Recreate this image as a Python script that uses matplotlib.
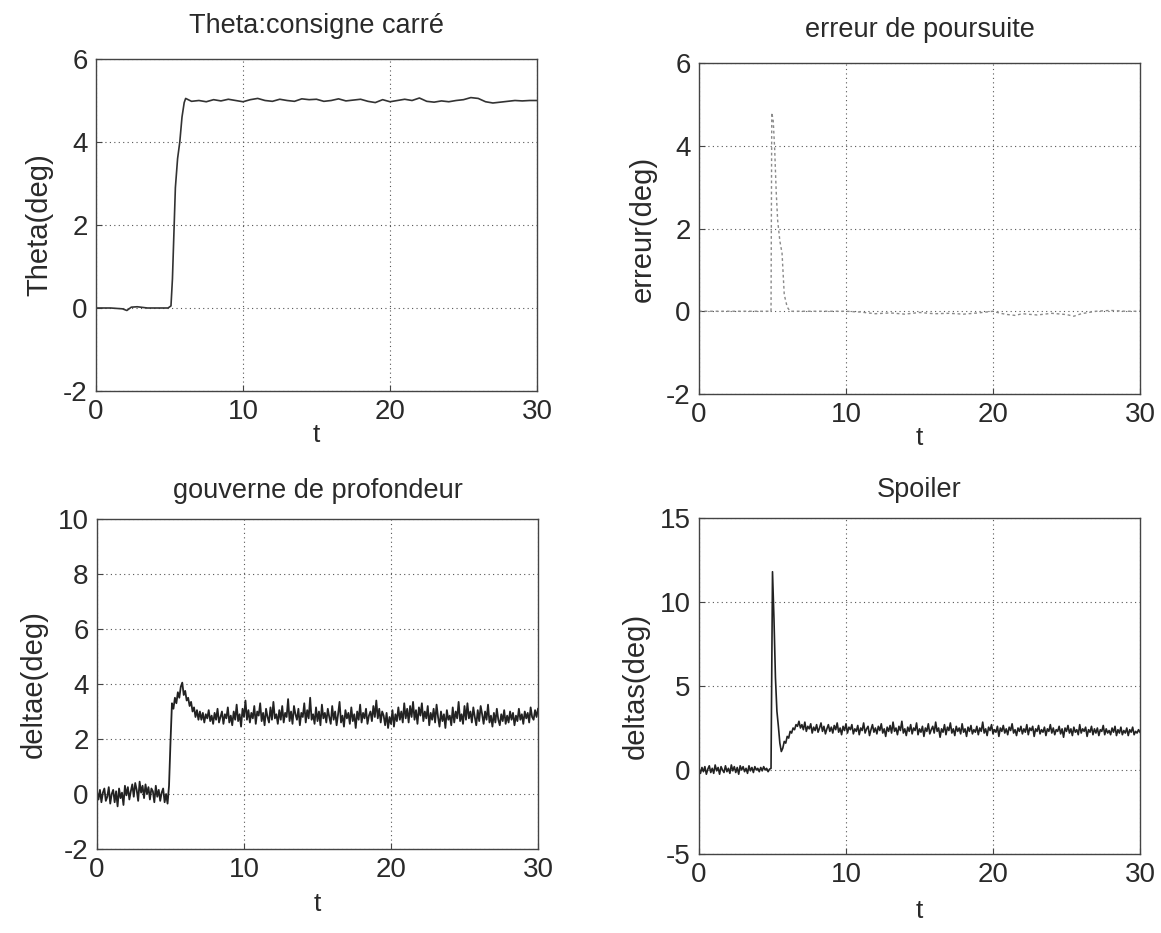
import numpy as np
import matplotlib
matplotlib.use("Agg")
import matplotlib.pyplot as plt

plt.rcParams['font.family'] = ['Liberation Sans', 'DejaVu Sans']
plt.rcParams['axes.unicode_minus'] = False

# ---------------- data ----------------
# Theta response (deg)
t_theta = [0.0, 1.0, 1.8, 2.1, 2.4, 2.8, 3.5, 4.9, 5.1, 5.2, 5.3, 5.4, 5.55, 5.7,
           5.85, 6.0, 6.1, 6.5, 7.0, 7.5, 8.0, 8.5, 9.0, 9.5, 10.0, 10.5, 11.0,
           11.5, 12.0, 12.5, 13.0, 13.5, 14.0, 14.5, 15.0, 15.5, 16.0, 16.5,
           17.0, 17.5, 18.0, 18.5, 19.0, 19.5, 20.0, 20.5, 21.0, 21.5, 22.0,
           22.5, 23.0, 23.5, 24.0, 24.5, 25.0, 25.5, 26.0, 26.5, 27.0, 27.5,
           28.0, 28.5, 29.0, 29.5, 30.0]
theta = [0.0, 0.0, -0.02, -0.06, 0.02, 0.03, 0.0, 0.0, 0.05, 0.7, 1.8, 2.9, 3.6, 4.0,
         4.6, 4.95, 5.05, 4.98, 5.0, 4.97, 5.02, 4.99, 5.03, 5.0, 4.97, 5.02, 5.05,
         5.0, 4.98, 5.03, 5.0, 4.98, 5.04, 5.02, 5.03, 4.98, 5.0, 5.04,
         4.99, 5.01, 5.03, 4.98, 4.95, 5.02, 4.97, 5.0, 5.03, 5.0, 5.06,
         4.98, 4.96, 4.99, 4.97, 5.0, 5.02, 5.07, 5.05, 4.97, 4.94, 4.96,
         4.98, 5.0, 4.99, 5.0, 5.0]

# Tracking error (deg)
t_err = [0.0, 4.9, 4.95, 5.05, 5.15, 5.25, 5.35, 5.5, 5.65, 5.8, 6.0, 6.2, 8.0, 10.0,
         11.0, 12.0, 13.0, 14.0, 15.0, 16.0, 17.0, 18.0, 19.0, 20.0, 20.5, 21.0,
         21.5, 22.0, 23.0, 24.0, 25.0, 25.5, 26.0, 27.0, 28.0, 29.0, 30.0]
err = [0.0, 0.0, 4.8, 4.6, 3.9, 2.9, 2.2, 1.7, 1.4, 0.4, 0.1, 0.0, 0.0, 0.0,
       -0.02, -0.06, -0.04, -0.07, -0.03, -0.06, -0.05, -0.07, -0.04, 0.0, -0.05, -0.08,
       -0.1, -0.06, -0.09, -0.05, -0.08, -0.12, -0.06, 0.0, 0.02, 0.0, 0.0]

# Elevator deflection (deg), sampled every 0.1 s
deltae = [
    0.1, -0.2, 0.15, -0.3, 0.05, 0.2, -0.25, -0.1, 0.25, -0.35,
    0.0, 0.15, -0.3, 0.1, -0.45, 0.2, -0.15, 0.05, -0.4, 0.3,
    -0.05, 0.25, -0.2, 0.1, 0.35, -0.1, 0.4, 0.15, -0.25, 0.45,
    0.05, 0.3, -0.15, 0.35, 0.0, 0.25, -0.2, 0.2, 0.1, -0.3,
    0.3, -0.1, 0.15, -0.25, 0.05, 0.2, -0.3, 0.0, -0.35, 0.3,
    1.9, 3.3, 3.1, 3.5, 3.3, 3.7, 3.5, 3.9, 4.05, 3.6,
    3.75, 3.4, 3.5, 3.2, 3.35, 3.0, 3.15, 2.8, 3.05, 2.7,
    3.0, 2.7, 2.95, 2.6, 2.9, 2.75, 3.05, 2.65, 2.85, 2.55,
    2.95, 2.7, 3.1, 2.6, 2.8, 3.0, 2.55, 2.9, 2.75, 3.15,
    2.6, 2.85, 2.5, 3.0, 2.7, 3.25, 2.65, 2.9, 2.45, 3.1,
    2.8, 3.4, 2.7, 3.05, 2.6, 2.95, 2.75, 3.2, 2.55, 3.0,
    2.85, 3.3, 2.65, 2.95, 2.5, 3.1, 2.8, 2.6, 3.15, 2.7,
    3.35, 2.75, 2.9, 2.55, 3.05, 2.7, 3.2, 2.6, 2.95, 2.8,
    3.45, 2.65, 3.0, 2.55, 3.2, 2.9, 2.7, 3.1, 2.5, 2.95,
    2.8, 3.3, 2.6, 3.05, 2.75, 3.5, 2.7, 2.9, 2.55, 3.15,
    2.65, 3.0, 2.5, 3.25, 2.75, 2.95, 2.6, 3.1, 2.8, 2.55,
    3.2, 2.7, 3.0, 2.5, 2.9, 3.35, 2.6, 2.85, 2.45, 3.05,
    2.75, 2.95, 2.55, 3.15, 2.65, 2.9, 2.4, 3.0, 2.7, 3.25,
    2.6, 2.95, 2.75, 3.1, 2.55, 2.85, 3.0, 2.65, 3.2, 2.8,
    3.4, 2.75, 3.1, 2.6, 3.0, 2.85, 2.5, 2.95, 2.4, 2.8,
    2.55, 3.05, 2.45, 2.9, 2.65, 3.15, 2.7, 3.0, 2.6, 3.3,
    2.75, 3.1, 2.6, 3.2, 2.8, 3.35, 2.7, 3.05, 2.55, 3.15,
    2.85, 3.3, 2.65, 3.0, 2.75, 3.2, 2.5, 2.95, 2.7, 3.1,
    2.6, 3.25, 2.8, 2.45, 3.0, 2.65, 2.9, 2.4, 3.05, 2.7,
    2.85, 2.5, 3.15, 2.6, 3.0, 2.75, 3.35, 2.65, 2.9, 2.55,
    3.2, 2.7, 3.3, 2.75, 3.0, 2.6, 3.15, 2.8, 2.5, 3.05,
    2.65, 3.2, 2.9, 2.55, 3.0, 2.7, 3.25, 2.6, 2.85, 2.45,
    2.95, 2.6, 3.1, 2.7, 2.5, 2.9, 2.65, 3.05, 2.55, 2.85,
    2.6, 3.0, 2.7, 2.95, 2.5, 2.85, 2.65, 3.1, 2.7, 2.9,
    2.55, 3.0, 2.75, 2.95, 2.6, 3.15, 2.8, 2.7, 3.05, 2.8, 3.1]

# Spoiler deflection (deg), sampled every 0.1 s
deltas = [
    0.1, -0.2, 0.15, -0.1, 0.2, -0.25, 0.05, 0.25, -0.15, 0.1,
    -0.2, 0.3, -0.05, 0.15, -0.25, 0.2, 0.0, -0.15, 0.25, -0.1,
    0.1, -0.2, 0.3, -0.05, 0.2, -0.15, 0.15, -0.25, 0.25, 0.0,
    0.2, -0.1, 0.1, -0.2, 0.25, -0.05, 0.15, -0.15, 0.2, 0.0,
    0.1, -0.1, 0.15, -0.05, 0.2, 0.0, 0.1, -0.1, 0.05, 0.1,
    11.8, 9.0, 5.5, 3.5, 2.6, 1.6, 1.1, 1.3, 1.7, 1.6,
    2.0, 1.9, 2.3, 2.2, 2.5, 2.4, 2.7, 2.6, 2.9, 2.5,
    2.7, 2.4, 2.85, 2.3, 2.6, 2.45, 2.75, 2.2, 2.55, 2.35,
    2.7, 2.25, 2.5, 2.8, 2.3, 2.6, 2.15, 2.45, 2.7, 2.3,
    2.55, 2.2, 2.65, 2.4, 2.8, 2.25, 2.5, 2.1, 2.6, 2.35,
    2.75, 2.2, 2.55, 2.4, 2.7, 2.15, 2.45, 2.3, 2.65, 2.1,
    2.5, 2.35, 2.8, 2.2, 2.45, 2.6, 2.05, 2.4, 2.7, 2.25,
    2.5, 2.15, 2.6, 2.35, 2.75, 2.2, 2.45, 2.0, 2.55, 2.3,
    2.65, 2.2, 2.85, 2.3, 2.5, 2.1, 2.6, 2.35, 2.9, 2.2,
    2.45, 2.05, 2.55, 2.3, 2.7, 2.15, 2.5, 2.35, 2.8, 2.1,
    2.45, 2.25, 2.6, 2.0, 2.5, 2.3, 2.75, 2.15, 2.4, 2.6,
    2.2, 2.85, 2.3, 2.5, 1.95, 2.45, 2.25, 2.7, 2.1, 2.55,
    2.35, 2.8, 2.2, 2.45, 2.05, 2.6, 2.3, 2.5, 2.15, 2.75,
    2.25, 2.45, 2.0, 2.55, 2.3, 2.65, 2.15, 2.4, 2.25, 2.6,
    2.1, 2.5, 2.3, 2.85, 2.2, 2.45, 2.05, 2.55, 2.35, 2.7,
    2.15, 2.4, 2.25, 2.6, 2.0, 2.5, 2.3, 2.65, 2.2, 2.45,
    2.1, 2.55, 2.35, 2.75, 2.2, 2.4, 2.05, 2.5, 2.3, 2.6,
    2.15, 2.45, 2.25, 2.7, 2.1, 2.5, 2.35, 2.6, 2.0, 2.45,
    2.3, 2.65, 2.15, 2.4, 2.25, 2.55, 2.05, 2.45, 2.3, 2.7,
    2.2, 2.5, 2.1, 2.4, 2.3, 2.6, 2.15, 2.45, 1.95, 2.5,
    2.3, 2.65, 2.2, 2.45, 2.05, 2.55, 2.25, 2.4, 2.1, 2.7,
    2.2, 2.45, 2.3, 2.55, 2.0, 2.4, 2.25, 2.6, 2.1, 2.45,
    2.2, 2.5, 2.05, 2.4, 2.3, 2.65, 2.1, 2.45, 2.2, 2.35,
    2.1, 2.5, 2.25, 2.6, 2.05, 2.4, 2.2, 2.55, 2.1, 2.35,
    2.2, 2.5, 2.05, 2.4, 2.25, 2.55, 2.1, 2.3, 2.2, 2.4, 2.25]

t_dt = 0.1
xticks = [0, 10, 20, 30]
titles = ["Theta:consigne carré", "erreur de poursuite",
          "gouverne de profondeur", "Spoiler"]
ylabels = ["Theta(deg)", "erreur(deg)", "deltae(deg)", "deltas(deg)"]
ylims = [(-2, 6), (-2, 6), (-2, 10), (-5, 15)]
yticks = [[-2, 0, 2, 4, 6], [-2, 0, 2, 4, 6], [-2, 0, 2, 4, 6, 8, 10],
          [-5, 0, 5, 10, 15]]

# ---------------- figure ----------------
fig = plt.figure(figsize=(11.61, 9.33), dpi=100)
rects = [
    [96 / 1161, 1 - 391 / 933, 441 / 1161, 332 / 933],
    [699 / 1161, 1 - 394 / 933, 441 / 1161, 331 / 933],
    [97 / 1161, 1 - 849 / 933, 441 / 1161, 330 / 933],
    [699 / 1161, 1 - 854 / 933, 441 / 1161, 336 / 933],
]
tcol = '#2a2a2a'
axes = [fig.add_axes(r) for r in rects]

t_grid = np.arange(len(deltae)) * t_dt
t_grid_s = np.arange(len(deltas)) * t_dt

axes[0].plot(t_theta, theta, color='#333333', lw=1.2)
axes[1].plot(t_err, err, color='#8a8a8a', lw=1.0, linestyle=(0, (2, 2)))
axes[2].plot(t_grid, deltae, color='#222222', lw=1.3)
axes[3].plot(t_grid_s, deltas, color='#222222', lw=1.2)

title_pads = [19, 19, 15, 15]
xlabel_pads = [-2, -2, 6, 8]
for i, ax in enumerate(axes):
    ax.set_xlim(0, 30)
    ax.set_ylim(*ylims[i])
    ax.set_xticks(xticks)
    ax.set_yticks(yticks[i])
    ax.grid(True, color='#555555', linestyle=(0, (1, 3)), lw=0.8)
    for s in ax.spines.values():
        s.set_color('#444444')
        s.set_linewidth(1.0)
    ax.tick_params(labelsize=20, colors='#444444', labelcolor=tcol,
                   direction='in', length=4, pad=6)
    ax.set_title(titles[i], fontsize=19.5, color=tcol, pad=title_pads[i])
    ax.set_ylabel(ylabels[i], fontsize=21, color=tcol, labelpad=7)
    ax.set_xlabel('t', fontsize=19, color=tcol, labelpad=xlabel_pads[i])

fig.savefig('out.png', dpi=100, facecolor='white')
